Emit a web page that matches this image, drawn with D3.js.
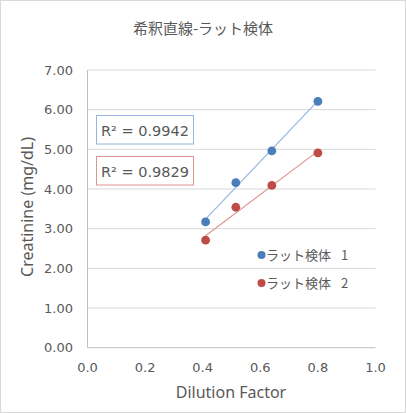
<!DOCTYPE html>
<html><head><meta charset="utf-8">
<script src="https://cdn.jsdelivr.net/npm/d3@7"></script>
<style>body{margin:0;background:#fff;} text{fill:#595959;}</style>
</head><body>
<svg id="c" width="406" height="413"></svg>
<script>
const title = "希釈直線-ラット検体";
const xLabel = "Dilution Factor";
const yLabel = "Creatinine (mg/dL)";
const seriesNames = ["ラット検体 1", "ラット検体 2"];
const xValues = [0.41, 0.515, 0.64, 0.80];
const series1 = [3.17, 4.16, 4.96, 6.21];
const series2 = [2.71, 3.54, 4.09, 4.91];
const r2Labels = ["R² = 0.9942", "R² = 0.9829"];
const xTicks = [0, 0.2, 0.4, 0.6, 0.8, 1.0];
const yTicks = [0, 1, 2, 3, 4, 5, 6, 7];

const colors = ["#4a7ebb", "#be4b48"];
const trendColors = ["#95b6e0", "#dc9593"];

const svg = d3.select("#c");
svg.append("rect").attr("x",0.5).attr("y",0.5).attr("width",405).attr("height",412)
  .attr("fill","#fff").attr("stroke","#d9d9d9");

const x = d3.scaleLinear().domain([0,1]).range([87.5,375.5]);
const y = d3.scaleLinear().domain([0,7]).range([347.7,70]);

// gridlines
svg.append("g").selectAll("line").data(yTicks.filter(d=>d>0)).join("line")
  .attr("x1",x(0)).attr("x2",x(1)).attr("y1",d=>y(d)).attr("y2",d=>y(d))
  .attr("stroke","#d9d9d9").attr("stroke-width",1);
// axes lines
svg.append("line").attr("x1",x(0)).attr("x2",x(1)).attr("y1",y(0)).attr("y2",y(0)).attr("stroke","#bfbfbf");
svg.append("line").attr("x1",x(0)).attr("x2",x(0)).attr("y1",y(0)).attr("y2",y(7)).attr("stroke","#bfbfbf");

// tick labels
svg.append("g").selectAll("text").data(yTicks).join("text")
  .attr("x",73).attr("y",d=>y(d)+4.5).attr("text-anchor","end")
  .style("font-family","DejaVu Sans").style("font-size","13px")
  .text(d=>d3.format(".2f")(d));
svg.append("g").selectAll("text").data(xTicks).join("text")
  .attr("x",d=>x(d)).attr("y",372).attr("text-anchor","middle")
  .style("font-family","DejaVu Sans").style("font-size","13px")
  .text(d=>d3.format(".1f")(d));

// titles
svg.append("text").attr("x",203).attr("y",34).attr("text-anchor","middle")
  .style("font-family","Noto Sans CJK JP").style("font-size","15px").text(title);
svg.append("text").attr("x",231).attr("y",398).attr("text-anchor","middle")
  .style("font-family","Noto Sans").style("font-size","16px").text(xLabel);
svg.append("text").attr("transform","translate(33,207) rotate(-90)").attr("text-anchor","middle")
  .style("font-family","Noto Sans").style("font-size","16px").text(yLabel);

// trendlines and points
[series1, series2].forEach((s,i)=>{
  const mx = d3.mean(xValues), my = d3.mean(s);
  let sxy=0, sxx=0;
  xValues.forEach((xv,k)=>{ sxy += (xv-mx)*(s[k]-my); sxx += (xv-mx)**2; });
  const b = sxy/sxx, a = my - b*mx;
  const x0 = d3.min(xValues), x1 = d3.max(xValues);
  svg.append("line").attr("x1",x(x0)).attr("y1",y(a+b*x0)).attr("x2",x(x1)).attr("y2",y(a+b*x1))
    .attr("stroke",trendColors[i]).attr("stroke-width",1.2);
  svg.append("g").selectAll("circle").data(xValues).join("circle")
    .attr("cx",d=>x(d)).attr("cy",(d,k)=>y(s[k])).attr("r",4.4).attr("fill",colors[i]);
});

// R² boxes
const boxY = [115.5, 156.5];
r2Labels.forEach((t,i)=>{
  svg.append("rect").attr("x",96.5).attr("y",boxY[i]).attr("width",97).attr("height",28.5)
    .attr("fill","#fff").attr("stroke",trendColors[i]).attr("stroke-width",1);
  svg.append("text").attr("x",101).attr("y",boxY[i]+20).style("font-family","DejaVu Sans")
    .style("font-size","14.5px").text(t);
});

// legend
const legY = [255, 283];
seriesNames.forEach((t,i)=>{
  svg.append("circle").attr("cx",261.5).attr("cy",legY[i]).attr("r",4).attr("fill",colors[i]);
  const parts = t.split(" ");
  const tx = svg.append("text").attr("x",266).attr("y",legY[i]+5).style("font-family","Noto Sans CJK JP")
    .style("font-size","13px");
  tx.append("tspan").text(parts[0]);
  tx.append("tspan").attr("dx",7).text(" " + parts[1]);
});
</script>
</body></html>
